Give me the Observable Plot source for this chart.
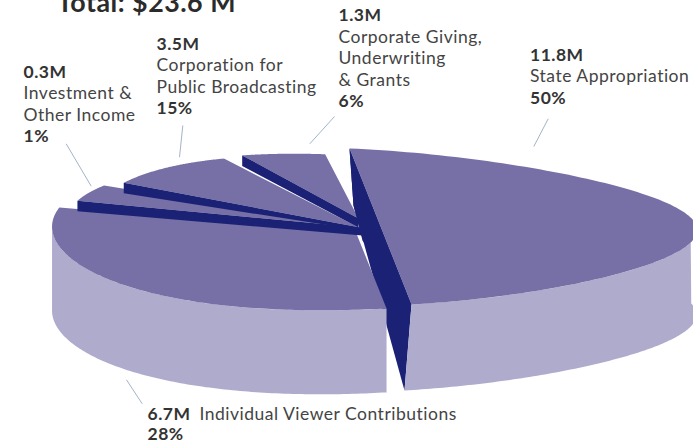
<!DOCTYPE html>
<html>
<head>
<meta charset="utf-8">
<script src="https://cdn.jsdelivr.net/npm/d3@7"></script>
<script src="https://cdn.jsdelivr.net/npm/@observablehq/plot@0.6"></script>
<style>
html,body{margin:0;padding:0;background:#fff;overflow:hidden}
svg{display:block}
</style>
</head>
<body>
<div id="chart"></div>
<script>
// Labelled values
const sliceNames = ["State Appropriation","Individual Viewer Contributions","Investment & Other Income","Corporation for Public Broadcasting","Corporate Giving, Underwriting & Grants"];
const amounts = ["11.8M","6.7M","0.3M","3.5M","1.3M"];
const shares = ["50%","28%","1%","15%","6%"];
const title = "Total: $23.6 M";

// Rim angles of each slice as drawn in the picture (degrees)
const rimStart = [-90, 90, 201, 214.7, 249];
const rimEnd = [90, 198.5, 215, 246, 267.7];
// Where each exploded slice sits, and how much it is scaled
const apexX = [380, 355.5, 360, 356, 362];
const apexY = [226, 233, 225, 228, 222];
const scaleX = [1, 0.985, 0.95, 0.86, 0.86];
const scaleY = [1, 0.96, 0.8, 0.92, 0.87];
// Points at which the wedges and their dark cut faces converge
const tipTopX = [0, 355.5, 360, 358, 358];
const tipTopY = [0, 232, 227, 226.7, 218];
const tipLowX = [0, 0, 362, 362, 358];
const tipLowY = [0, 0, 235, 230, 227];

// Text rows
const labelRows = [
  [title, 56.5, 11.5, 700, 26.8],
  [amounts[0], 529.5, 60, 700, 17.5], ["State Appropriation", 529.5, 81, 400, 17.5], [shares[0], 529.5, 103, 700, 17.5],
  [amounts[4], 338, 20, 700, 17.5], ["Corporate Giving,", 338, 42, 400, 17.5], ["Underwriting", 338, 63, 400, 17.5], ["& Grants", 338, 85, 400, 17.5], [shares[4], 338, 106, 700, 17.5],
  [amounts[3], 156, 49, 700, 17.5], ["Corporation for", 156, 70, 400, 17.5], ["Public Broadcasting", 156, 92, 400, 17.5], [shares[3], 156, 113, 700, 17.5],
  [amounts[2], 23, 77, 700, 17.5], ["Investment &", 23, 98, 400, 17.5], ["Other Income", 23, 120, 400, 17.5], [shares[2], 23, 141, 700, 17.5],
  [amounts[1], 147, 419, 700, 17.5], [sliceNames[1], 199, 419, 400, 17.5], [shares[1], 147, 439.5, 700, 17.5]
];
const leaderX1 = [547.7, 334, 182.3, 65.7, 126];
const leaderY1 = [118.3, 116, 125, 143.3, 379.3];
const leaderX2 = [533.3, 309.3, 179, 90.7, 141.7];
const leaderY2 = [146, 143.3, 156.7, 185.7, 403.3];

const TOP = "#7670a6", SIDE = "#aeabcd", NAVY = "#1b2175", LEADER = "#a3b4c8";

// Rim of the tilted disc relative to its centre
function rimRel(deg) {
  const t = deg * Math.PI / 180, c = Math.cos(t), s = Math.sin(t);
  return [311 * c + 31 * s + 4 * c * c, 78 * s * (1 - 0.2 * c) - 2.5 * c];
}
function rim(i, deg) {
  const [x, y] = rimRel(deg);
  return {x: apexX[i] + scaleX[i] * x, y: apexY[i] + scaleY[i] * y};
}
function arc(i, a, b) {
  return d3.range(0, 121).map(k => rim(i, a + (b - a) * k / 120));
}
function topFace(i) {
  const pts = arc(i, rimStart[i], rimEnd[i]);
  if (i === 0) return pts;
  return [{x: tipTopX[i], y: tipTopY[i]}, ...pts];
}
function sideFace(i, a, b, depth, lean) {
  const up = arc(i, a, b);
  const low = up.map((p, k) => {
    const d = a + (b - a) * k / 120, t = d * Math.PI / 180;
    return {x: p.x + lean * Math.sin(t), y: p.y + depth};
  }).reverse();
  return [...up, ...low];
}
function strip(i) {
  const p = rim(i, rimStart[i]);
  return [p, {x: p.x, y: p.y + 10.5}, {x: tipLowX[i], y: tipLowY[i]}, {x: tipTopX[i], y: tipTopY[i]}];
}
function cutFace(full) {
  const back = rim(0, -90), front = rim(0, 90);
  return full
    ? [back, front, {x: front.x - 7, y: front.y + 86}, {x: back.x + 4, y: back.y + 57}]
    : [back, front, {x: 362, y: 240}, {x: back.x + 4, y: back.y + 57}];
}

const poly = (pts, fill) => Plot.line(pts, {x: "x", y: "y", fill, stroke: "none", curve: "linear"});

const rows = labelRows.map(([text, x, y, weight, size]) => ({text, x, y, weight, size}));
const textMark = (w, s, f) => Plot.text(rows.filter(r => r.weight === w && r.size === s), {
  x: "x", y: "y", text: "text", textAnchor: "start", lineAnchor: "bottom",
  fontFamily: "Lato, 'Noto Sans', sans-serif", fontWeight: w, fontSize: s, fill: f
});

const chart = Plot.plot({
  width: 693, height: 441,
  marginTop: 0, marginRight: 0, marginBottom: 0, marginLeft: 0,
  x: {domain: [0, 693], range: [0, 693], axis: null},
  y: {domain: [0, 441], range: [0, 441], axis: null},
  style: {background: "#fff", overflow: "hidden", letterSpacing: "0.5px"},
  marks: [
    poly(cutFace(true), NAVY),
    poly(sideFace(1, 90, 186, 84, 0), SIDE),
    poly(topFace(1), TOP),
    poly(topFace(2), TOP), poly(strip(2), NAVY),
    poly(topFace(3), TOP), poly(strip(3), NAVY),
    poly(topFace(4), TOP), poly(strip(4), NAVY),
    poly(cutFace(false), NAVY),
    poly(sideFace(0, -6, 90, 86, -7), SIDE),
    poly(topFace(0), TOP),
    Plot.link(d3.range(leaderX1.length), {
      x1: i => leaderX1[i], y1: i => leaderY1[i], x2: i => leaderX2[i], y2: i => leaderY2[i],
      stroke: LEADER, strokeWidth: 1
    }),
    textMark(700, 26.8, "#2b2b2b"),
    textMark(700, 17.5, "#333"),
    textMark(400, 17.5, "#444")
  ]
});
document.getElementById("chart").appendChild(chart);
</script>
</body>
</html>
